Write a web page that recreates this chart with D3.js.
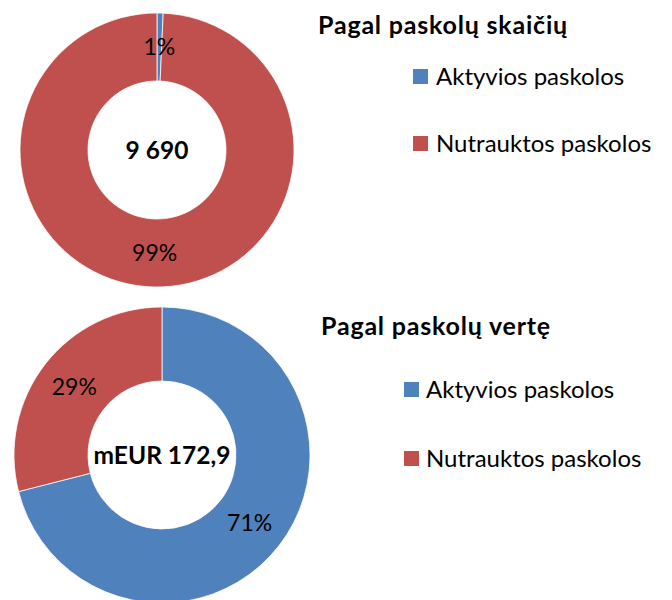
<!DOCTYPE html>
<html>
<head>
<meta charset="utf-8">
<script src="https://cdn.jsdelivr.net/npm/d3@7"></script>
<style>
  body { margin: 0; background: #fff; }
  text { font-family: Lato, "Open Sans", sans-serif; }
</style>
</head>
<body>
<div id="chart"></div>
<script>
// data
var categories = ["Aktyvios paskolos", "Nutrauktos paskolos"];
var countValues = [70, 9620];        // loans by number, total 9 690
var amountValues = [122.8, 50.1];    // loans by value, mEUR 172,9
var titles = ["Pagal paskolų skaičių", "Pagal paskolų vertę"];
var centerLabels = ["9 690", "mEUR 172,9"];

var color = d3.scaleOrdinal()
  .domain(categories)
  .range(["#4f81bd", "#c0504d"]);

var svg = d3.select("#chart").append("svg")
  .attr("width", 672)
  .attr("height", 600);

donut({
  values: countValues, title: titles[0], center: centerLabels[0],
  cx: 157, cy: 150, outer: 137, inner: 69,
  titleX: 318, titleY: 34, legX: 413, legY: [69, 136], legGap: 23
});

donut({
  values: amountValues, title: titles[1], center: centerLabels[1],
  cx: 162, cy: 455, outer: 148, inner: 74,
  titleX: 321, titleY: 335, legX: 404, legY: [382, 451], legGap: 22
});

function donut(o) {
  var rows = categories.map(function(c, i) { return {name: c, value: o.values[i]}; });
  var total = d3.sum(o.values);

  var pie = d3.pie()
    .sort(null)
    .value(function(d) { return d.value; });

  var arc = d3.arc()
    .innerRadius(o.inner)
    .outerRadius(o.outer);

  var g = svg.append("g")
    .attr("transform", "translate(" + o.cx + "," + o.cy + ")");

  var arcs = pie(rows);

  g.selectAll("path")
    .data(arcs).enter()
    .append("path")
    .attr("d", arc)
    .style("fill", function(d) { return color(d.data.name); })
    .style("stroke", "#ffffff")
    .style("stroke-width", 0.75);

  // labels after all slices so none get covered
  g.selectAll("text.pct")
    .data(arcs).enter()
    .append("text")
    .attr("class", "pct")
    .attr("transform", function(d) { return "translate(" + arc.centroid(d) + ")"; })
    .attr("dy", "0.36em")
    .style("text-anchor", "middle")
    .style("font-size", "23px")
    .style("fill", "#000")
    .text(function(d) { return Math.round(d.data.value / total * 100) + "%"; });

  g.append("text")
    .attr("dy", "0.36em")
    .style("text-anchor", "middle")
    .style("font-size", "24.5px")
    .style("font-weight", 700)
    .text(o.center);

  svg.append("text")
    .attr("x", o.titleX)
    .attr("y", o.titleY)
    .style("font-size", "25px")
    .style("font-weight", 700)
    .style("letter-spacing", "0.8px")
    .text(o.title);

  var leg = svg.selectAll(null)
    .data(categories).enter()
    .append("g")
    .attr("transform", function(d, i) { return "translate(" + o.legX + "," + o.legY[i] + ")"; });

  leg.append("rect")
    .attr("width", 15)
    .attr("height", 15)
    .style("fill", function(d) { return color(d); });

  leg.append("text")
    .attr("x", o.legGap)
    .attr("y", 16)
    .style("font-size", "24px")
    .text(function(d) { return d; });
}
</script>
</body>
</html>
